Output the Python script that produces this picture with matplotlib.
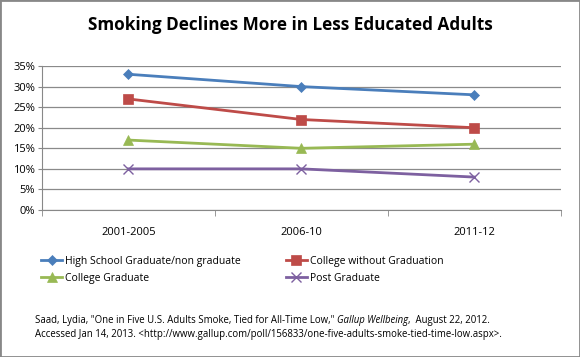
import matplotlib.pyplot as plt
from matplotlib.patches import Rectangle
from matplotlib.ticker import FuncFormatter

periods = ['2001-2005', '2006-10', '2011-12']
high_school = [33, 30, 28]
college_no_grad = [27, 22, 20]
college_grad = [17, 15, 16]
post_grad = [10, 10, 8]

series = [
    ('High School Graduate/non graduate', high_school, '#4a7ebb', 'D', 5.5),
    ('College without Graduation', college_no_grad, '#be4b48', 's', 6.5),
    ('College Graduate', college_grad, '#98b954', '^', 7),
    ('Post Graduate', post_grad, '#7d60a0', 'x', 7),
]

plt.rcParams['font.family'] = ['Open Sans', 'DejaVu Sans']

fig = plt.figure(figsize=(5.8, 3.57), dpi=100)
fig.patches.append(Rectangle((0, 0), 1, 1, transform=fig.transFigure,
                             fill=False, edgecolor='#888888', linewidth=2))
ax = fig.add_axes([0.0724, 0.4118, 0.8946, 0.4032])

x = range(len(periods))
handles = []
for name, vals, col, mk, ms in series:
    h, = ax.plot(x, vals, color=col, linewidth=2, marker=mk, markersize=ms,
                 markeredgewidth=1.0 if mk == 'x' else 0.5, label=name)
    handles.append(h)

ax.set_xlim(-0.5, 2.5)
ax.set_ylim(0, 35)
ax.set_yticks(range(0, 36, 5))
ax.yaxis.set_major_formatter(FuncFormatter(lambda v, p: '%d%%' % v))
ax.set_xticks(x)
ax.set_xticklabels(periods)
ax.set_xticks([-0.5, 0.5, 1.5, 2.5], minor=True)
ax.tick_params(axis='x', which='major', length=0, pad=12, labelsize=8)
ax.tick_params(axis='x', which='minor', length=4, color='#888888', direction='out')
ax.tick_params(axis='y', length=3, color='#888888', labelsize=8, pad=2)
ax.grid(axis='y', color='#8a8a8a', linewidth=0.9)
ax.set_axisbelow(True)
for s in ['top', 'right']:
    ax.spines[s].set_visible(False)
for s in ['left', 'bottom']:
    ax.spines[s].set_color('#888888')

fig.text(0.5, 0.93, 'Smoking Declines More in Less Educated Adults',
         ha='center', va='center', fontsize=12.3, fontweight='bold')

# legend fills by column, so order handles to read row by row
order = [0, 2, 1, 3]
fig.legend(handles=[handles[i] for i in order], loc='upper left',
           bbox_to_anchor=(0.055, 0.31), ncol=2, frameon=False, fontsize=7.5,
           handlelength=2.0, handletextpad=0.3, columnspacing=4.3,
           labelspacing=0.6)

fig.text(0.06, 0.103, 'Saad, Lydia, "One in Five U.S. Adults Smoke, Tied for All-Time Low," ',
         fontsize=6.9, va='center')
fig.text(0.06, 0.063,
         'Accessed Jan 14, 2013. <http://www.gallup.com/poll/156833/one-five-adults-smoke-tied-time-low.aspx>.',
         fontsize=6.9, va='center')
t = fig.texts[-2]
fig.canvas.draw()
bb = t.get_window_extent()
t2 = fig.text(bb.x1 / fig.bbox.width, 0.103, 'Gallup Wellbeing', fontsize=6.9,
              style='italic', va='center')
bb2 = t2.get_window_extent(fig.canvas.get_renderer())
fig.text(bb2.x1 / fig.bbox.width, 0.103, ',  August 22, 2012.', fontsize=6.9, va='center')

fig.savefig('out.png', dpi=100)
